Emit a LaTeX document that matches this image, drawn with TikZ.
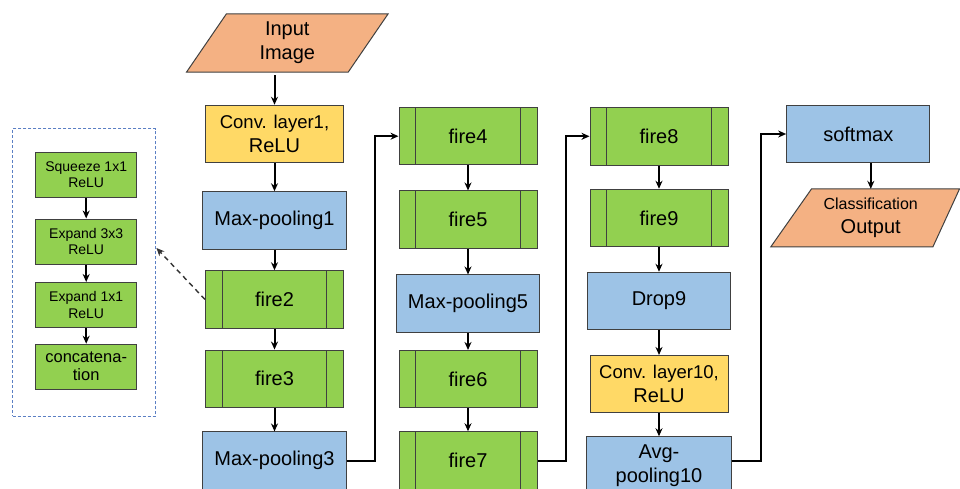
\documentclass[tikz,border=0pt]{standalone}
\usepackage{fontspec}
\setmainfont{Liberation Sans}
\usetikzlibrary{arrows.meta, backgrounds}
\definecolor{firegreen}{HTML}{92D050}
\definecolor{poolblue}{HTML}{9DC3E6}
\definecolor{convyellow}{HTML}{FFD966}
\definecolor{ioorange}{HTML}{F4B183}
\definecolor{boxline}{HTML}{404040}
\definecolor{dashblue}{HTML}{5B7FC4}

\begin{document}
\begin{tikzpicture}[x=1pt, y=-1pt,
    box/.style={draw=boxline, line width=1pt, inner sep=0pt, minimum height=57.5pt,
      align=center, font=\fontsize{20}{24}\selectfont},
    fire/.style={box, fill=firegreen, minimum width=138pt, path picture={
        \draw[color=boxline, line width=1.2pt] ([xshift=16.7pt]path picture bounding box.north west)
          -- ([xshift=16.7pt]path picture bounding box.south west);
        \draw[color=boxline, line width=1.2pt] ([xshift=-16.7pt]path picture bounding box.north east)
          -- ([xshift=-16.7pt]path picture bounding box.south east);}},
    pool/.style={box, fill=poolblue, minimum width=143.3pt},
    conv/.style={box, fill=convyellow, minimum width=138pt},
    io/.style={inner sep=0pt, align=center, font=\fontsize{20}{24}\selectfont},
    iofill/.style={draw=boxline, line width=1pt, fill=ioorange},
    small/.style={draw=boxline, line width=1pt, fill=firegreen, inner sep=0pt,
      minimum width=101pt, minimum height=45pt, align=center,
      font=\fontsize{14}{16.6}\selectfont},
    arr/.style={-{Stealth[length=8pt, width=7pt]}, line width=2pt},
    link/.style={-{Stealth[length=8pt, width=7pt]}, line width=1.4pt, draw=black!80,
      dash pattern=on 5pt off 4pt}]
  \clip (0,0) rectangle (960,489);

  % Fire module detail
  \node[draw=dashblue, line width=1pt, dash pattern=on 3pt off 2pt,
    minimum width=143.3pt, minimum height=287pt] (detail) at (84.3,272.5) {};
  \node[small] (sq)  at (86.2,174.8) {Squeeze 1x1\\ReLU};
  \node[small] (ex3) at (86.2,241.5) {Expand 3x3\\ReLU};
  \node[small] (ex1) at (86.2,305)   {Expand 1x1\\ReLU};
  \node[small, font=\fontsize{16.5}{18}\selectfont] (cat) at (86.2,366.7) {concatena-\\tion};
  \draw[arr] (sq) -- (ex3);
  \draw[arr] (ex3) -- (ex1);
  \draw[arr] (ex1) -- (cat);

  % Column 1
  \node[io, minimum width=201.3pt, minimum height=58pt] (inp) at (287.3,43) {Input\\Image};
  \node[conv] (conv1) at (274.5,134) {{\fontsize{18.5}{24}\selectfont Conv. layer1,}\\ReLU};
  \node[pool] (mp1) at (274.5,220.5) {Max-pooling1};
  \node[fire] (fire2) at (274.5,299.5) {fire2};
  \node[fire] (fire3) at (274.5,378.8) {fire3};
  \node[pool] (mp3) at (274.5,460.7) {Max-pooling3};

  % Column 2
  \node[fire] (fire4) at (468,136.2) {fire4};
  \node[fire] (fire5) at (468,219.7) {fire5};
  \node[pool] (mp5) at (468,303.7) {Max-pooling5};
  \node[fire] (fire6) at (468,379.2) {fire6};
  \node[fire] (fire7) at (468,460.5) {fire7};

  % Column 3
  \node[fire] (fire8) at (659,136.3) {fire8};
  \node[fire] (fire9) at (659,218) {fire9};
  \node[pool] (drop9) at (659,301) {Drop9};
  \node[conv] (conv10) at (659,384.2) {{\fontsize{18.5}{24}\selectfont Conv. layer10,}\\ReLU};
  \node[pool, minimum width=144.4pt] (avg10) at (659,465.5) {Avg-\\pooling10};

  % Output
  \node[pool] (softmax) at (858.3,134) {softmax};
  \node[io, minimum width=188.3pt, minimum height=57.5pt] (out) at (865.2,217.8)
    {\hspace*{11pt}{\fontsize{16}{22}\selectfont Classification}\\\hspace*{11pt}Output};

  % Parallelograms behind the io texts
  \begin{scope}[on background layer]
    \draw[iofill] (inp.south west) -- ([xshift=40pt]inp.north west) -- (inp.north east)
      -- ([xshift=-40pt]inp.south east) -- cycle;
    \draw[iofill] (out.south west) -- ([xshift=40.7pt]out.north west) -- (out.north east)
      -- ([xshift=-26.6pt]out.south east) -- cycle;
  \end{scope}

  % Vertical arrows
  \draw[arr, shorten <=3pt] (conv1.north |- inp.south) -- (conv1.north);
  \draw[arr] (conv1) -- (mp1);
  \draw[arr] (mp1) -- (fire2);
  \draw[arr] (fire2) -- (fire3);
  \draw[arr] (fire3) -- (mp3);
  \draw[arr] (fire4) -- (fire5);
  \draw[arr] (fire5) -- (mp5);
  \draw[arr] (mp5) -- (fire6);
  \draw[arr] (fire6) -- (fire7);
  \draw[arr] (fire8) -- (fire9);
  \draw[arr] (fire9) -- (drop9);
  \draw[arr] (drop9) -- (conv10);
  \draw[arr] (conv10) -- (avg10);
  \draw[arr] ([xshift=12.5pt]softmax.south) -- ([xshift=12.5pt]softmax.south |- out.north);

  % Column to column
  \draw[arr] (mp3.east) -- ++(28.3,0) |- (fire4.west);
  \draw[arr] (fire7.east) -- ++(28.7,0) |- (fire8.west);
  \draw[arr] ([yshift=5pt]avg10.east) -- ++(29,0) |- (softmax.west);

  % Fire module pointer
  \draw[link] (fire2.west) -- ([yshift=24.5pt]detail.east);
\end{tikzpicture}
\end{document}
